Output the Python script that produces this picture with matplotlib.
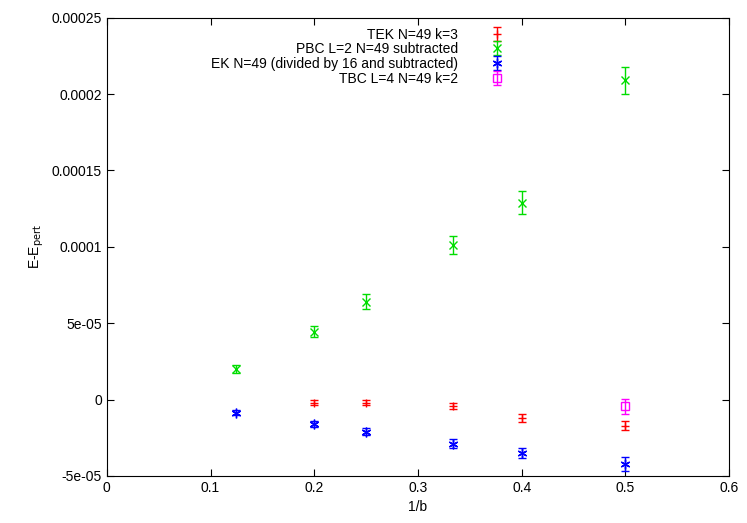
import numpy as np
import matplotlib as mpl
mpl.use('Agg')
import matplotlib.pyplot as plt

# values
tek_x = [0.2, 0.25, 1/3, 0.4, 0.5]
tek_y = [-2e-6, -2e-6, -4e-6, -1.2e-5, -1.7e-5]
tek_e = [1.5e-6, 1.5e-6, 2e-6, 2.5e-6, 3e-6]

pbc_x = [0.125, 0.2, 0.25, 1/3, 0.4, 0.5]
pbc_y = [2.0e-5, 4.45e-5, 6.4e-5, 1.01e-4, 1.29e-4, 2.09e-4]
pbc_e = [2.5e-6, 3.5e-6, 5e-6, 6e-6, 7.5e-6, 9e-6]

ek_x = [0.125, 0.2, 0.25, 1/3, 0.4, 0.5]
ek_y = [-8.5e-6, -1.6e-5, -2.1e-5, -2.9e-5, -3.5e-5, -4.2e-5]
ek_e = [1.5e-6, 2e-6, 2.5e-6, 3e-6, 3.5e-6, 4.5e-6]

tbc_x = [0.5]
tbc_y = [-4.5e-6]
tbc_e = [5e-6]

plt.rcParams['font.family'] = ['Liberation Sans', 'DejaVu Sans']
plt.rcParams['font.size'] = 10

fig = plt.figure(figsize=(7.47, 5.23), dpi=100)
ax = fig.add_axes([0.143, 0.090, 0.833, 0.876])

asterisk = (6, 2, 0)
ax.errorbar(tek_x, tek_y, yerr=tek_e, linestyle='none', marker='+', color='#ff0000',
            ms=6, mew=1, elinewidth=1, capsize=3, label='TEK N=49 k=3')
ax.errorbar(pbc_x, pbc_y, yerr=pbc_e, linestyle='none', marker='x', color='#00dd00',
            ms=6, mew=1, elinewidth=1, capsize=3, label='PBC L=2 N=49 subtracted')
ax.errorbar(ek_x, ek_y, yerr=ek_e, linestyle='none', marker=asterisk, color='#0000ff',
            ms=7, mew=1, elinewidth=1, capsize=3,
            label='EK N=49 (divided by 16 and subtracted)')
ax.errorbar(tbc_x, tbc_y, yerr=tbc_e, linestyle='none', marker='s', mfc='none',
            color='#ff00ff', ms=6, mew=1, elinewidth=1, capsize=3,
            label='TBC L=4 N=49 k=2')

ax.set_xlim(0, 0.6)
ax.set_ylim(-5e-5, 0.00025)
ax.set_xticks(np.arange(0, 0.61, 0.1))
ax.set_xticklabels(['0', '0.1', '0.2', '0.3', '0.4', '0.5', '0.6'])
yt = [-5e-5, 0, 5e-5, 1e-4, 1.5e-4, 2e-4, 2.5e-4]
ax.set_yticks(yt)
ax.set_yticklabels(['-5e-05', '0', '5e-05', '0.0001', '0.00015', '0.0002', '0.00025'])
ax.tick_params(direction='in', top=True, right=True, length=5)
ax.set_xlabel('1/b')
ax.set_ylabel(r'E-E$_{\mathrm{pert}}$')

leg = ax.legend(loc='upper center', bbox_to_anchor=(0.42, 1.0), markerfirst=False,
                frameon=False, handlelength=4, labelspacing=0.05, borderaxespad=0.3)
for t in leg.get_texts():
    t.set_ha('right')

fig.savefig('out.png', dpi=100)
